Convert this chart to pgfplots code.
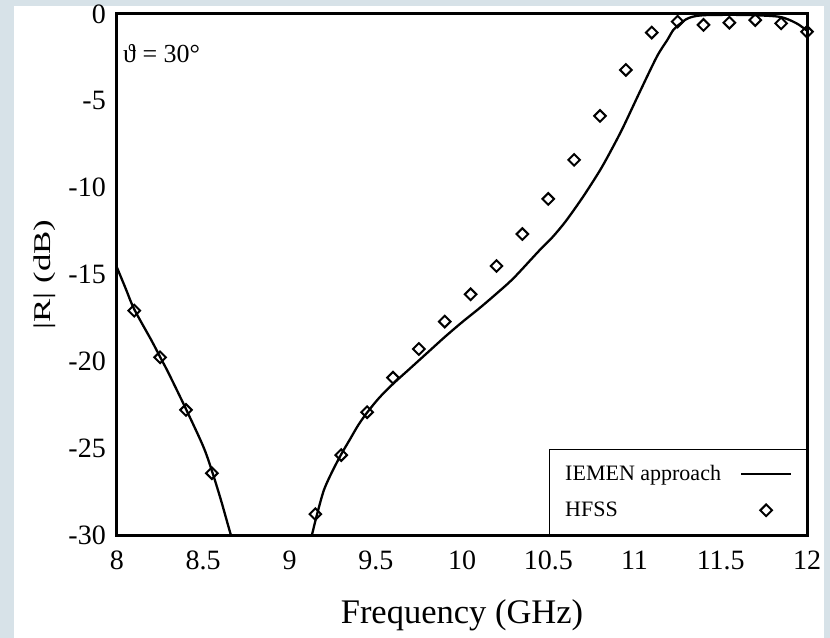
\documentclass[border=0pt]{standalone}
\usepackage{pgfplots}
\pgfplotsset{compat=1.18}
\usepackage{graphicx}
\usepackage{fontspec}
\setmainfont{Liberation Serif}
\definecolor{framebg}{RGB}{215,226,232}

\begin{document}
\begin{tikzpicture}
\path[use as bounding box] (-117bp,-103bp) rectangle (713bp,535bp);
\fill[framebg] (-117bp,-103bp) rectangle (713bp,535bp);
\fill[white] (-103bp,-103bp) rectangle (707bp,529bp);
\begin{axis}[
  at={(0,0)}, anchor=south west,
  scale only axis, width=690bp, height=521bp,
  xmin=8, xmax=12, ymin=-30, ymax=0,
  xtick={8,8.5,...,12}, ytick={-30,-25,...,0},
  major tick length=0pt,
  axis line style={line width=3bp},
  /pgf/number format/assume math mode=true,
  tick label style={font=\fontsize{28bp}{33bp}\selectfont},
  xticklabel style={inner sep=0pt, anchor=north, yshift=-16bp},
  yticklabel style={inner sep=0pt, anchor=east, xshift=-11bp},
  xlabel={Frequency (GHz)},
  xlabel style={font=\fontsize{34.5bp}{40bp}\selectfont, inner sep=0pt,
    at={(axis description cs:0.5,0)}, anchor=base, yshift=-88bp},
  ylabel={\scalebox{1.45}[1]{|R| (dB)}},
  ylabel style={font=\fontsize{24bp}{28bp}\selectfont, inner sep=0pt,
    at={(axis description cs:-0.1043,0.5)}, anchor=center},
  legend plot pos=right,
  legend cell align=left,
  legend image code/.code={%
    \path (0bp,-4bp) (50bp,4bp);
    \draw[mark repeat=2,mark phase=2,#1] plot coordinates {(0bp,0bp) (25bp,0bp) (50bp,0bp)};},
  legend style={at={(1,0)}, anchor=south east, draw=black, line width=1.4bp,
    fill=white, font=\fontsize{22bp}{26bp}\selectfont,
    inner xsep=14bp, inner ysep=14bp, row sep=16bp,
    /tikz/every odd column/.append style={column sep=17bp}},
]
% IEMEN solution, lower band edge
\addplot[black, line width=2.3bp, smooth] table {
8.00 -14.6
8.05 -15.8
8.10 -17.0
8.20 -18.8
8.25 -19.75
8.30 -20.7
8.40 -22.75
8.50 -24.9
8.55 -26.3
8.60 -27.9
8.64 -29.3
8.66 -30.0
};
\addlegendentry{IEMEN approach}
% IEMEN solution, upper band edge
\addplot[black, line width=2.3bp, smooth, forget plot] table {
9.13 -30.0
9.16 -28.8
9.20 -27.4
9.25 -26.3
9.30 -25.35
9.35 -24.5
9.40 -23.65
9.45 -22.95
9.52 -22.1
9.60 -21.3
9.70 -20.4
9.80 -19.5
9.90 -18.6
10.00 -17.75
10.10 -16.95
10.20 -16.1
10.30 -15.2
10.45 -13.6
10.52 -12.9
10.60 -11.95
10.70 -10.55
10.80 -9.0
10.87 -7.75
10.935 -6.5
11.03 -4.5
11.13 -2.45
11.19 -1.5
11.225 -0.92
11.26 -0.6
11.30 -0.3
11.34 -0.15
11.40 -0.07
11.50 -0.05
11.60 -0.05
11.70 -0.07
11.80 -0.12
11.85 -0.18
11.90 -0.35
11.95 -0.6
12.00 -0.96
};
% full-wave reference points
\addplot[black, only marks, mark=square, mark size=4.1bp,
  mark options={rotate=45, line width=2bp, fill=white}] table {
8.10 -17.08
8.25 -19.77
8.40 -22.8
8.55 -26.44
9.15 -28.8
9.30 -25.4
9.45 -22.93
9.60 -20.94
9.75 -19.29
9.90 -17.71
10.05 -16.14
10.20 -14.51
10.35 -12.67
10.50 -10.65
10.65 -8.4
10.80 -5.87
10.95 -3.22
11.10 -1.07
11.25 -0.44
11.40 -0.63
11.55 -0.5
11.70 -0.35
11.85 -0.54
12.00 -1.02
};
\addlegendentry{HFSS}
\node[anchor=base west, inner sep=0pt, xshift=6bp, yshift=-49bp,
  font=\fontsize{26bp}{30bp}\selectfont] at (rel axis cs:0,1) {ϑ = 30°};
\end{axis}
\end{tikzpicture}
\end{document}
